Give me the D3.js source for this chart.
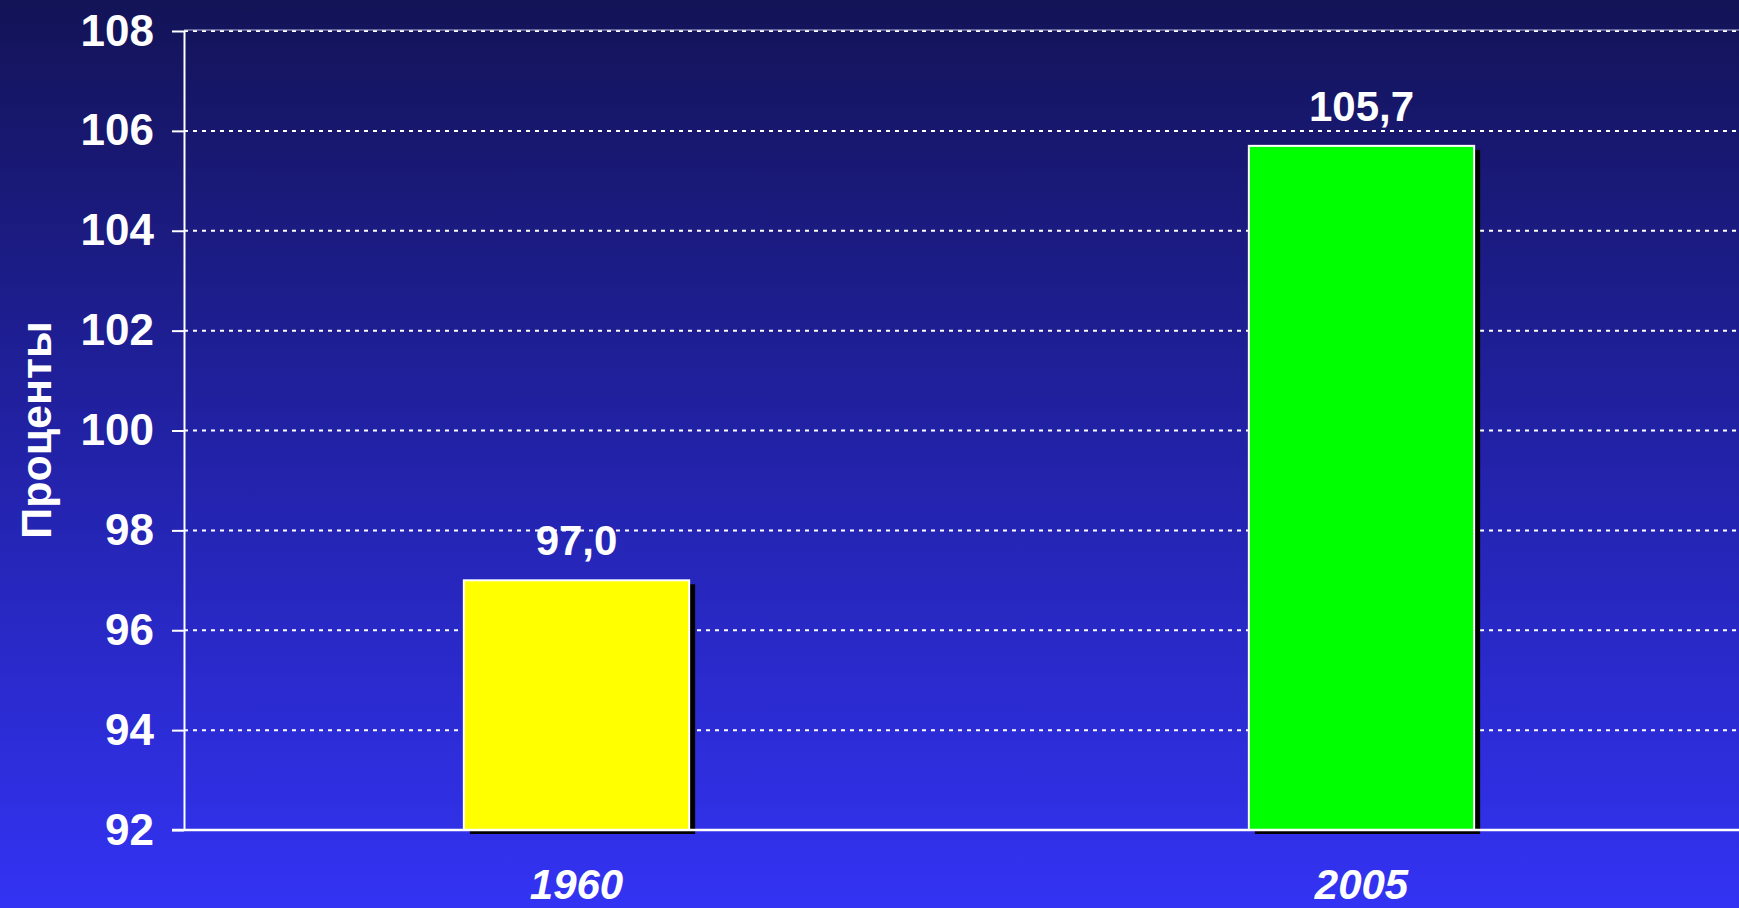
<!DOCTYPE html>
<html>
<head>
<meta charset="utf-8">
<script src="https://cdn.jsdelivr.net/npm/d3@7"></script>
<style>
  html, body { margin: 0; padding: 0; overflow: hidden; }
  svg { display: block; font-family: "Liberation Sans", Arial, sans-serif; }
</style>
</head>
<body>
<script>
const years = ['1960', '2005'];
const values = [97.0, 105.7];
const valueLabels = ['97,0', '105,7'];
const barColors = ['#ffff00', '#00ff00'];
const yTicks = [92, 94, 96, 98, 100, 102, 104, 106, 108];
const yTitle = 'Проценты';

const width = 1739, height = 908;
const margin = { left: 184, top: 31, bottom: 78 };
const plotH = height - margin.top - margin.bottom;

const svg = d3.select('body').append('svg')
	.attr('width', width)
	.attr('height', height);

const grad = svg.append('defs').append('linearGradient')
	.attr('id', 'bg').attr('x1', 0).attr('y1', 0).attr('x2', 0).attr('y2', 1);
grad.append('stop').attr('offset', '0%').attr('stop-color', '#131357');
grad.append('stop').attr('offset', '50%').attr('stop-color', '#2222a8');
grad.append('stop').attr('offset', '100%').attr('stop-color', '#3333f4');

svg.append('rect').attr('width', width).attr('height', height).attr('fill', 'url(#bg)');

const g = svg.append('g').attr('transform', `translate(${margin.left},${margin.top})`);

// plot runs a bit past the right edge of the window
const x = d3.scaleBand().domain(years).range([0, 1570]).paddingInner(0.713).paddingOuter(0.3565);
const y = d3.scaleLinear().domain([92, 108]).range([plotH, 0]);

// gridlines
g.append('g')
	.selectAll('line')
	.data(yTicks.filter(d => d > 92))
	.join('line')
	.attr('x1', 0).attr('x2', width)
	.attr('y1', d => y(d)).attr('y2', d => y(d))
	.attr('stroke', '#fff')
	.attr('stroke-width', 2)
	.attr('stroke-dasharray', '4,5');

g.append('line')
	.attr('x1', 0).attr('x2', width)
	.attr('y1', y(108) - 1).attr('y2', y(108) - 1)
	.attr('stroke', '#b8b8d8').attr('stroke-width', 1);

// bars with shadow
const bars = g.append('g').selectAll('g').data(years).join('g');
bars.append('rect')
	.attr('x', d => x(d) + 6)
	.attr('y', (d, i) => y(values[i]) + 4)
	.attr('width', x.bandwidth())
	.attr('height', (d, i) => plotH - y(values[i]))
	.attr('fill', '#000');
bars.append('rect')
	.attr('x', d => x(d))
	.attr('y', (d, i) => y(values[i]))
	.attr('width', x.bandwidth())
	.attr('height', (d, i) => plotH - y(values[i]))
	.attr('fill', (d, i) => barColors[i])
	.attr('stroke', '#fff')
	.attr('stroke-width', 2);

bars.append('text')
	.attr('x', d => x(d) + x.bandwidth() / 2)
	.attr('y', (d, i) => y(values[i]) - 25)
	.attr('text-anchor', 'middle')
	.attr('fill', '#fff')
	.attr('font-size', '42px')
	.attr('font-weight', 'bold')
	.text((d, i) => valueLabels[i]);

// y axis
const yAxis = d3.axisLeft(y).tickValues(yTicks).tickSize(12).tickPadding(18).tickSizeOuter(0);
g.append('g')
	.call(yAxis)
	.call(a => a.select('.domain').attr('stroke', '#fff').attr('stroke-width', 2))
	.call(a => a.selectAll('.tick line').attr('stroke', '#fff').attr('stroke-width', 2))
	.call(a => a.selectAll('.tick text')
		.attr('fill', '#fff')
		.attr('font-size', '44px')
		.attr('font-weight', 'bold')
		.attr('font-family', '"Liberation Sans", Arial, sans-serif'));

// x axis baseline and labels
g.append('line')
	.attr('x1', -12).attr('x2', width)
	.attr('y1', plotH).attr('y2', plotH)
	.attr('stroke', '#fff').attr('stroke-width', 2.5);

g.append('g').selectAll('text').data(years).join('text')
	.attr('x', d => x(d) + x.bandwidth() / 2)
	.attr('y', plotH + 69)
	.attr('text-anchor', 'middle')
	.attr('fill', '#fff')
	.attr('font-size', '42px')
	.attr('font-weight', 'bold')
	.attr('font-style', 'italic')
	.text(d => d);

svg.append('text')
	.attr('transform', 'translate(51,430) rotate(-90)')
	.attr('text-anchor', 'middle')
	.attr('fill', '#fff')
	.attr('font-size', '43px')
	.attr('font-weight', 'bold')
	.text(yTitle);
</script>
</body>
</html>
